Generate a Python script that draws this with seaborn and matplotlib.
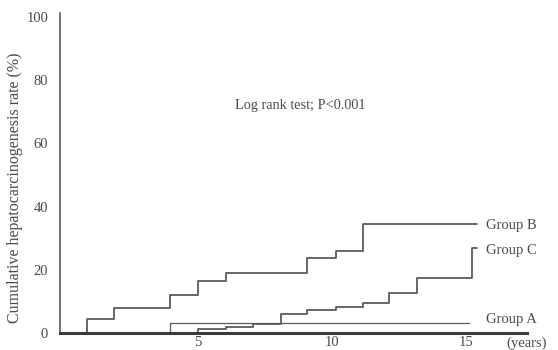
import numpy as np
import pandas as pd
import matplotlib
matplotlib.use('Agg')
import matplotlib.pyplot as plt
import seaborn as sns

# Step curves (years, cumulative rate %).
years_a = [0, 3.96, 15.1]
rate_a = [0, 3.2, 3.2]

years_b = [0, 0.85, 1.87, 3.96, 5.0, 6.04, 9.07, 10.15, 11.16, 15.4]
rate_b = [0, 4.4, 7.9, 12.0, 16.5, 19.0, 23.7, 25.9, 34.5, 34.5]

years_c = [0, 5.0, 6.04, 7.05, 8.1, 9.07, 10.15, 11.16, 12.13, 13.17, 15.22, 15.4]
rate_c = [0, 1.3, 1.9, 2.8, 6.0, 7.3, 8.2, 9.5, 12.7, 17.4, 26.9, 26.9]

group_names = ['Group A', 'Group B', 'Group C']
y_ticks = [0, 20, 40, 60, 80, 100]
x_ticks = [5, 10, 15]

df = pd.concat([
    pd.DataFrame({'Years': years_a, 'Rate': rate_a, 'Group': 'Group A'}),
    pd.DataFrame({'Years': years_b, 'Rate': rate_b, 'Group': 'Group B'}),
    pd.DataFrame({'Years': years_c, 'Rate': rate_c, 'Group': 'Group C'}),
])

sns.set_style('white')
plt.rcParams['font.family'] = ['Liberation Serif', 'DejaVu Serif']

txt = '#4a4a4a'
line_col = '#5a5a5a'

fig = plt.figure(figsize=(5.58, 3.5), dpi=100)
ax = fig.add_axes([60 / 558, 17 / 350, 467 / 558, 320 / 350])

sns.lineplot(data=df, x='Years', y='Rate', hue='Group', hue_order=group_names,
             palette=[line_col, line_col, line_col], drawstyle='steps-post',
             estimator=None, sort=False, legend=False, ax=ax)
for ln, lw in zip(ax.get_lines(), [0.9, 1.3, 1.3]):
    ln.set_linewidth(lw)

ax.set_xlim(-0.15, 17.28)
ax.set_ylim(0, 101.2)
ax.set_xticks(x_ticks)
ax.set_yticks(y_ticks)
ax.tick_params(length=0, labelsize=10.5, labelcolor=txt)
ax.tick_params(axis='y', pad=8.5)
ax.tick_params(axis='x', pad=2.5)
ax.set_xlabel('')
ax.set_ylabel('Cumulative hepatocarcinogenesis rate (%)', fontsize=11.5, color=txt)
ax.yaxis.set_label_coords(-37 / 467, 0.455)

for s in ['top', 'right']:
    ax.spines[s].set_visible(False)
ax.spines['left'].set_color(line_col)
ax.spines['left'].set_linewidth(1.2)
ax.spines['bottom'].set_color('#3a3a3a')
ax.spines['bottom'].set_linewidth(2.2)

# Group labels at the ends of the curves
ax.text(15.75, rate_b[-1] - 0.6, 'Group B', fontsize=10.5, color=txt, va='center')
ax.text(15.75, rate_c[-1] - 0.9, 'Group C', fontsize=10.5, color=txt, va='center')
ax.text(15.75, rate_a[-1] + 1.0, 'Group A', fontsize=10.5, color=txt, va='center')
ax.text(8.8, 72, 'Log rank test; P<0.001', fontsize=10.3, color=txt, ha='center', va='center')
ax.text(17.28, -1.2, '(years)', fontsize=10.5, color=txt, ha='center', va='top', clip_on=False)

fig.savefig('out.png', dpi=100)
